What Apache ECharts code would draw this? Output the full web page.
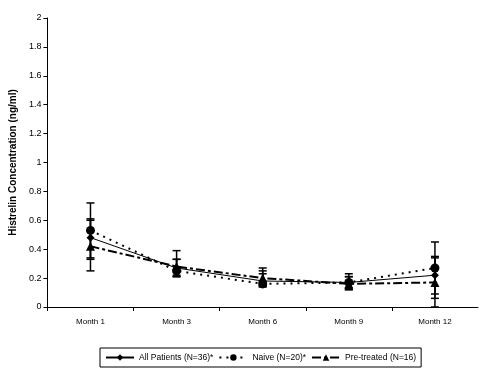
<!DOCTYPE html>
<html><head><meta charset="utf-8">
<script src="https://cdn.jsdelivr.net/npm/echarts@6/dist/echarts.min.js"></script>
<style>html,body{margin:0;padding:0;background:#fff}#c{width:480px;height:379px}</style>
</head><body><div id="c"></div>
<script>
var categories = ['Month 1', 'Month 3', 'Month 6', 'Month 9', 'Month 12'];
var allPatients = [0.48, 0.27, 0.18, 0.17, 0.22];
var allLow = [0.33, 0.22, 0.14, 0.13, 0.09];
var allHigh = [0.61, 0.33, 0.23, 0.21, 0.35];
var naive = [0.53, 0.25, 0.16, 0.17, 0.27];
var naiveLow = [0.34, 0.21, 0.14, 0.12, 0.06];
var naiveHigh = [0.72, 0.39, 0.27, 0.23, 0.45];
var pretreated = [0.42, 0.28, 0.20, 0.16, 0.17];
var preLow = [0.25, 0.21, 0.15, 0.12, 0.0];
var preHigh = [0.60, 0.33, 0.25, 0.21, 0.34];
var yTicks = ['0', '0.2', '0.4', '0.6', '0.8', '1', '1.2', '1.4', '1.6', '1.8', '2'];

function errData(low, high) {
  return categories.map(function (c, i) { return [i, low[i], high[i]]; });
}
function errRender(params, api) {
  var x = api.value(0), lo = api.coord([x, api.value(1)]), hi = api.coord([x, api.value(2)]);
  var w = 4;
  var st = { stroke: '#000', lineWidth: 1.5 };
  return { type: 'group', children: [
    { type: 'line', shape: { x1: lo[0], y1: lo[1], x2: hi[0], y2: hi[1] }, style: st },
    { type: 'line', shape: { x1: lo[0] - w, y1: lo[1], x2: lo[0] + w, y2: lo[1] }, style: st },
    { type: 'line', shape: { x1: hi[0] - w, y1: hi[1], x2: hi[0] + w, y2: hi[1] }, style: st }
  ]};
}
var font = 'Liberation Sans, Arial, sans-serif';
var chart = echarts.init(document.getElementById('c'), null, { renderer: 'canvas' });
chart.setOption({
  animation: false,
  backgroundColor: '#fff',
  grid: { left: 42, right: 2, top: 18, bottom: 72 },
  xAxis: {
    type: 'category', data: categories, boundaryGap: true,
    axisLine: { lineStyle: { color: '#000', width: 1 } },
    axisTick: { show: true, alignWithLabel: false, length: 4, lineStyle: { color: '#000' } },
    axisLabel: { color: '#000', fontSize: 8, fontFamily: font, margin: 11, letterSpacing: -0.3 },
    splitLine: { show: false }
  },
  yAxis: {
    type: 'value', min: 0, max: 2, interval: 0.2,
    name: 'Histrelin Concentration (ng/ml)', nameLocation: 'middle', nameGap: 29,
    nameTextStyle: { color: '#000', fontSize: 10, fontWeight: 'bold', fontFamily: font },
    axisLine: { show: true, lineStyle: { color: '#000', width: 1 } },
    axisTick: { show: true, length: 4, lineStyle: { color: '#000' } },
    axisLabel: { color: '#000', fontSize: 9, fontFamily: font, margin: 6,
      formatter: function (v) { var i = Math.round(v / 0.2); return yTicks[i]; } },
    splitLine: { show: false }
  },
  legend: {
    top: 348, left: 100, width: 326, height: 20,
    padding: [5, 5, 5, 5],
    borderColor: '#000', borderWidth: 1, itemGap: 5, itemWidth: 28, itemHeight: 8,
    textStyle: { color: '#000', fontSize: 8.5, fontFamily: font, letterSpacing: -0.2 },
    data: ['All Patients (N=36)*', 'Naive (N=20)*', 'Pre-treated (N=16)']
  },
  series: [
    { name: 'All Patients (N=36)*', type: 'line', data: allPatients, symbol: 'diamond', symbolSize: 8,
      itemStyle: { color: '#000' }, lineStyle: { color: '#000', width: 1 }, z: 5 },
    { name: 'Naive (N=20)*', type: 'line', data: naive, symbol: 'circle', symbolSize: 9,
      itemStyle: { color: '#000' }, lineStyle: { color: '#000', width: 2, type: [2, 5] }, z: 5 },
    { name: 'Pre-treated (N=16)', type: 'line', data: pretreated, symbol: 'triangle', symbolSize: 9,
      itemStyle: { color: '#000' }, lineStyle: { color: '#000', width: 2, type: [9, 3, 3, 3] }, z: 5 },
    { type: 'custom', renderItem: errRender, data: errData(allLow, allHigh), z: 3, silent: true, encode: { x: 0, y: [1, 2] } },
    { type: 'custom', renderItem: errRender, data: errData(naiveLow, naiveHigh), z: 3, silent: true, encode: { x: 0, y: [1, 2] } },
    { type: 'custom', renderItem: errRender, data: errData(preLow, preHigh), z: 3, silent: true, encode: { x: 0, y: [1, 2] } }
  ]
});
</script></body></html>
